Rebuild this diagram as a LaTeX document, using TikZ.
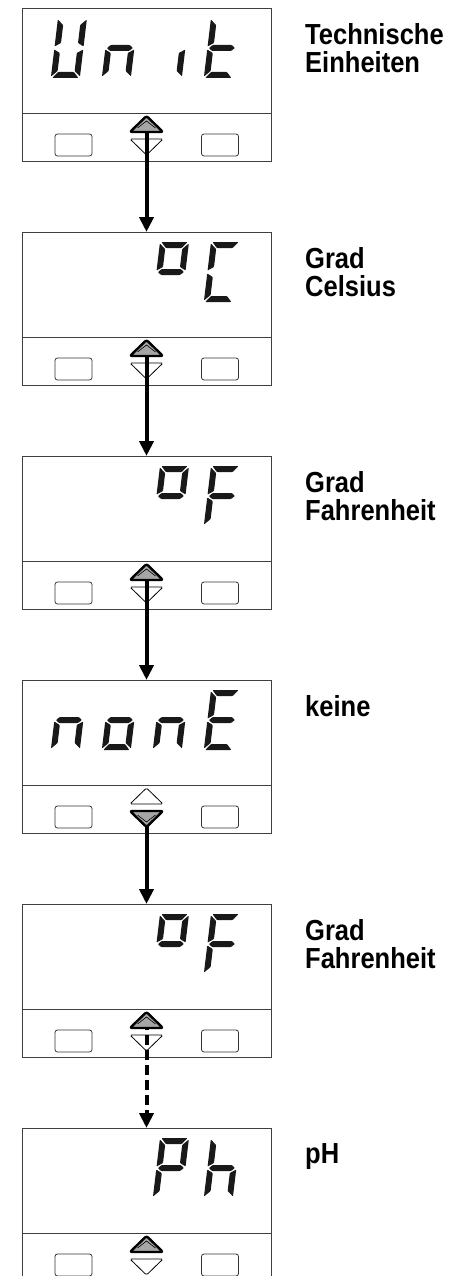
\documentclass[tikz,border=0pt]{standalone}
\usepackage{fontspec}
\usepackage{tikz}
\usetikzlibrary{arrows.meta,positioning,calc}
\newfontfamily\labelfont{Liberation Sans}[FakeStretch=0.88]

\tikzset{
  display/.style={draw=black!75,line width=0.9pt,minimum width=249pt,minimum height=153pt,inner sep=0pt,outer sep=0pt},
  frame/.style={draw=black!75,line width=0.9pt},
  button/.style={draw=black!80,line width=0.8pt,rounded corners=2.5pt,minimum width=37pt,minimum height=22pt,inner sep=0pt},
  keyoff/.style={draw=black,line width=0.8pt,fill=white,rounded corners=1.5pt},
  keyon/.style={draw=black,line width=2.4pt,fill=black!35,rounded corners=2pt,line join=round},
  seg/.style={fill=black!90,rounded corners=0.8pt},
  flow/.style={line width=4pt,-{Triangle[length=15pt,width=14pt]}},
  unitlbl/.style={font=\labelfont\bfseries\fontsize{29}{28}\selectfont,align=left,inner sep=0pt,anchor=north west}
}

% seven segments of one LCD cell (29 wide, 60 high, y pointing down)
\newcommand{\sga}{\fill[seg] (1.5,0) -- (27.5,0) -- (22.5,6) -- (6.5,6) -- cycle;}
\newcommand{\sgb}{\fill[seg] (29,1.5) -- (29,28.5) -- (23,25) -- (23,7) -- cycle;}
\newcommand{\sgc}{\fill[seg] (29,31.5) -- (29,58.5) -- (23,53) -- (23,35) -- cycle;}
\newcommand{\sgd}{\fill[seg] (1.5,60) -- (6.5,54) -- (22.5,54) -- (27.5,60) -- cycle;}
\newcommand{\sge}{\fill[seg] (0,31.5) -- (6,35) -- (6,53) -- (0,58.5) -- cycle;}
\newcommand{\sgf}{\fill[seg] (0,1.5) -- (6,7) -- (6,25) -- (0,28.5) -- cycle;}
\newcommand{\sgg}{\fill[seg] (1.5,30) -- (5,27) -- (24,27) -- (27.5,30) -- (24,33) -- (5,33) -- cycle;}
% #1 display, #2 cell offset, #3 segments
\newcommand{\lcd}[3]{\begin{scope}[shift={(#1.north west)},shift={(#2,10)},xslant=0.12] #3 \end{scope}}

% arrow keys, #1 centre coordinate
\newcommand{\keyup}[2]{\draw[#2] ([shift={(-16.5,8)}]#1) -- ([shift={(0,-8)}]#1) -- ([shift={(16.5,8)}]#1) -- cycle;}
\newcommand{\keydown}[2]{\draw[#2] ([shift={(-16.5,-8)}]#1) -- ([shift={(0,8)}]#1) -- ([shift={(16.5,-8)}]#1) -- cycle;}
\newcommand{\keyupon}[1]{\keyup{#1}{keyon}
  \draw[line width=0.6pt] ([shift={(-9,4)}]#1) -- ([shift={(0,-3)}]#1) -- ([shift={(9,4)}]#1);}
\newcommand{\keydownon}[1]{\keydown{#1}{keyon}
  \draw[line width=0.6pt] ([shift={(-9,-4)}]#1) -- ([shift={(0,3)}]#1) -- ([shift={(9,-4)}]#1);}

\begin{document}
\begin{tikzpicture}[x=1pt,y=-1pt]
  \clip (0,0) rectangle (458,1276);

  % displays
  \node[display] (d1) at (146.5,84.5) {};
  \node[display,below=71pt of d1] (d2) {};
  \node[display,below=71pt of d2] (d3) {};
  \node[display,below=71pt of d3] (d4) {};
  \node[display,below=71pt of d4] (d5) {};
  \node[display,below=71pt of d5] (d6) {};

  \foreach \d in {d1,d2,d3,d4,d5,d6} {
    \draw[frame] ([shift={(0,105)}]\d.north west) -- ([shift={(0,105)}]\d.north east);
    \node[button] (\d-l) at ([shift={(-73,-16)}]\d.south) {};
    \node[button] (\d-r) at ([shift={(73.5,-16)}]\d.south) {};
    \coordinate (\d-u) at ([shift={(0,-37)}]\d.south);
    \coordinate (\d-w) at ([shift={(0,-14)}]\d.south);
  }

  % plain keys
  \keydown{d1-w}{keyoff}
  \keydown{d2-w}{keyoff}
  \keydown{d3-w}{keyoff}
  \keyup{d4-u}{keyoff}
  \keydown{d5-w}{keyoff}
  \keydown{d6-w}{keyoff}

  % connectors
  \draw[flow] (d1-u) -- (d2.north);
  \draw[flow] (d2-u) -- (d3.north);
  \draw[flow] (d3-u) -- (d4.north);
  \draw[flow] (d4-w) -- (d5.north);
  \draw[flow,dash pattern=on 10pt off 5pt] (d5-u) -- (d6.north);

  % pressed keys
  \keyupon{d1-u}
  \keyupon{d2-u}
  \keyupon{d3-u}
  \keydownon{d4-w}
  \keyupon{d5-u}
  \keyupon{d6-u}

  % Unit
  \lcd{d1}{36}{\sgb\sgc\sgd\sge\sgf}
  \lcd{d1}{87}{\sgc\sge\sgg}
  \lcd{d1}{138}{\sgc}
  \lcd{d1}{189}{\sgd\sge\sgf\sgg}
  % oC
  \lcd{d2}{138}{\sga\sgb\sgf\sgg}
  \lcd{d2}{189}{\sga\sgd\sge\sgf}
  % oF
  \lcd{d3}{138}{\sga\sgb\sgf\sgg}
  \lcd{d3}{189}{\sga\sge\sgf\sgg}
  % nonE
  \lcd{d4}{36}{\sgc\sge\sgg}
  \lcd{d4}{87}{\sgc\sgd\sge\sgg}
  \lcd{d4}{138}{\sgc\sge\sgg}
  \lcd{d4}{189}{\sga\sgd\sge\sgf\sgg}
  % oF
  \lcd{d5}{138}{\sga\sgb\sgf\sgg}
  \lcd{d5}{189}{\sga\sge\sgf\sgg}
  % Ph
  \lcd{d6}{138}{\sga\sgb\sge\sgf\sgg}
  \lcd{d6}{189}{\sgc\sge\sgf\sgg}

  % labels
  \node[unitlbl] (t1) at ([shift={(34,15)}]d1.north east) {Technische\\Einheiten};
  \node[unitlbl] (t2) at ([shift={(34,15)}]d2.north east) {Grad\\Celsius};
  \node[unitlbl] (t3) at ([shift={(34,15)}]d3.north east) {Grad\\Fahrenheit};
  \node[unitlbl] (t4) at ([shift={(34,15)}]d4.north east) {keine};
  \node[unitlbl] (t5) at ([shift={(34,15)}]d5.north east) {Grad\\Fahrenheit};
  \node[unitlbl] (t6) at ([shift={(34,15)}]d6.north east) {pH};
\end{tikzpicture}
\end{document}
